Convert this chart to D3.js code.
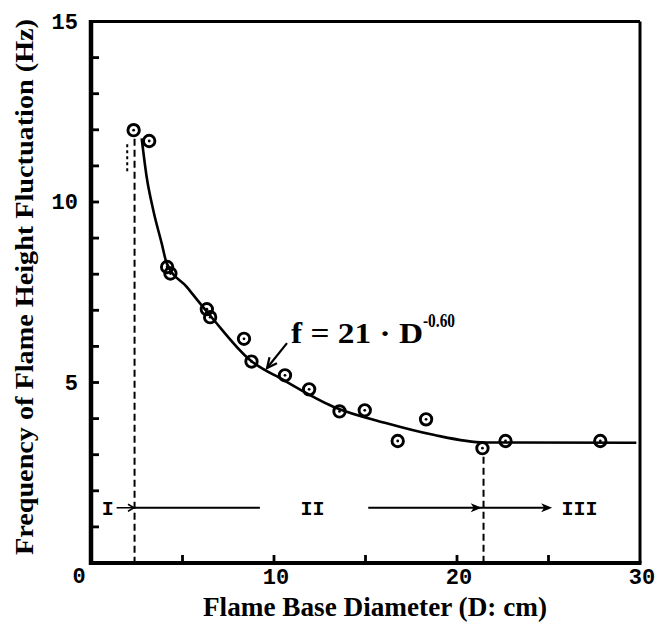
<!DOCTYPE html>
<html>
<head>
<meta charset="utf-8">
<script src="https://d3js.org/d3.v7.min.js"></script>
<style>
  body { margin: 0; background: #fff; }
  svg { display: block; }
</style>
</head>
<body>
<svg id="chart" width="655" height="623"></svg>
<script>
var diameters   = [2.33, 3.18, 4.16, 4.34, 6.33, 6.51, 8.36, 8.77, 10.60, 11.92, 13.58, 14.96, 16.76, 18.31, 21.39, 22.65, 27.83];
var frequencies = [11.99, 11.69, 8.20, 8.02, 7.03, 6.81, 6.21, 5.58, 5.20, 4.81, 4.20, 4.23, 3.38, 3.98, 3.18, 3.38, 3.38];

// fitted curve as drawn in the figure
var fitD = [2.77, 3.04, 3.40, 3.86, 4.14, 5.23, 5.96, 6.60, 8.69, 10.51, 13.24, 16.16, 18.71, 21.50, 29.80];
var fitF = [11.76, 10.70, 9.78, 8.86, 8.30, 7.65, 7.19, 6.80, 5.62, 5.07, 4.33, 3.87, 3.55, 3.34, 3.33];

// ticks
var xTickLabels = [10, 20, 30];
var xMinorTicks = [5, 10, 15, 20, 25];
var yTickLabels = [5, 10, 15];
var yMinorTicks = [1, 2, 3, 4, 5, 6, 7, 8, 9, 10, 11, 12, 13, 14];

// regimes
var boundaries   = [2.38, 21.45];
var regionLabels = ["I", "II", "III"];
var regionX      = [0.91, 12.1, 26.7];
var regionLevel  = 1.53;

var svg = d3.select("#chart");

var x = d3.scaleLinear().domain([0, 30]).range([91, 640]);
var y = d3.scaleLinear().domain([0, 15]).range([563, 21.5]);

var serif = "'Liberation Serif', 'Times New Roman', serif";
var mono  = "'Liberation Mono', 'Courier New', monospace";

//---- frame
svg.append("line").attr("x1", x(0)).attr("x2", x(30)).attr("y1", y(15)).attr("y2", y(15))
	.attr("stroke", "#000").attr("stroke-width", 3);
svg.append("line").attr("x1", x(30)).attr("x2", x(30)).attr("y1", y(15)).attr("y2", y(0))
	.attr("stroke", "#000").attr("stroke-width", 3);
svg.append("line").attr("x1", x(0)).attr("x2", x(30) + 1.5).attr("y1", y(0)).attr("y2", y(0))
	.attr("stroke", "#000").attr("stroke-width", 4);
svg.append("line").attr("x1", x(0)).attr("x2", x(0)).attr("y1", y(15) - 1.5).attr("y2", y(0) + 2)
	.attr("stroke", "#000").attr("stroke-width", 4.5);

//---- inner ticks
svg.selectAll(".xtick").data(xMinorTicks).enter().append("line")
	.attr("class", "xtick")
	.attr("x1", function(d) { return x(d); })
	.attr("x2", function(d) { return x(d); })
	.attr("y1", y(0)).attr("y2", y(0) - 8)
	.attr("stroke", "#000").attr("stroke-width", 2.8);

svg.selectAll(".ytick").data(yMinorTicks).enter().append("line")
	.attr("class", "ytick")
	.attr("x1", x(0)).attr("x2", x(0) + 8)
	.attr("y1", function(d) { return y(d); })
	.attr("y2", function(d) { return y(d); })
	.attr("stroke", "#000").attr("stroke-width", 2.8);

//---- tick labels
svg.selectAll(".xlab").data(xTickLabels).enter().append("text")
	.attr("class", "xlab")
	.attr("x", function(d) { return x(d) + 2; })
	.attr("y", 584)
	.attr("text-anchor", "middle")
	.style("font-family", mono).style("font-weight", "bold").style("font-size", "22px")
	.text(function(d) { return d; });

svg.selectAll(".ylab").data(yTickLabels).enter().append("text")
	.attr("class", "ylab")
	.attr("x", 78)
	.attr("y", function(d) { return y(d) + 7; })
	.attr("text-anchor", "end")
	.style("font-family", mono).style("font-weight", "bold").style("font-size", "22px")
	.text(function(d) { return d; });

// shared zero in the corner
svg.append("text").attr("x", 79).attr("y", 583).attr("text-anchor", "middle")
	.style("font-family", mono).style("font-weight", "bold").style("font-size", "22px")
	.text("0");

//---- axis titles
svg.append("text")
	.attr("transform", "translate(33," + 287 + ") rotate(-90)")
	.attr("text-anchor", "middle")
	.attr("textLength", 536).attr("lengthAdjust", "spacingAndGlyphs")
	.style("font-family", serif).style("font-weight", "bold").style("font-size", "25px")
	.text("Frequency of Flame Height Fluctuation (Hz)");

svg.append("text")
	.attr("x", 375).attr("y", 616)
	.attr("text-anchor", "middle")
	.attr("textLength", 344).attr("lengthAdjust", "spacingAndGlyphs")
	.style("font-family", serif).style("font-weight", "bold").style("font-size", "27px")
	.text("Flame Base Diameter (D: cm)");

//---- regime boundaries (dashed)
svg.selectAll(".bound").data(boundaries).enter().append("line")
	.attr("class", "bound")
	.attr("x1", function(d) { return x(d); })
	.attr("x2", function(d) { return x(d); })
	.attr("y1", function(d, i) { return i == 0 ? y(11.75) : y(2.94); })
	.attr("y2", y(0))
	.attr("stroke", "#000").attr("stroke-width", 2)
	.attr("stroke-dasharray", "7,4");

// short dotted mark left of the first boundary
svg.append("line")
	.attr("x1", x(1.98)).attr("x2", x(1.98))
	.attr("y1", y(11.6)).attr("y2", y(10.8))
	.attr("stroke", "#000").attr("stroke-width", 2)
	.attr("stroke-dasharray", "3,3");

//---- fitted curve
var fitData = fitD.map(function(d, i) { return [d, fitF[i]]; });
var line = d3.line()
	.x(function(d) { return x(d[0]); })
	.y(function(d) { return y(d[1]); })
	.curve(d3.curveMonotoneX);

svg.append("path")
	.datum(fitData)
	.attr("d", line)
	.attr("fill", "none")
	.attr("stroke", "#000")
	.attr("stroke-width", 2.6);

//---- data points
var pts = diameters.map(function(d, i) { return { d: d, f: frequencies[i] }; });
var node = svg.selectAll(".pt").data(pts).enter().append("g")
	.attr("class", "pt")
	.attr("transform", function(p) { return "translate(" + x(p.d) + "," + y(p.f) + ")"; });

node.append("circle")
	.attr("r", 5.7)
	.attr("fill", "none")
	.attr("stroke", "#000")
	.attr("stroke-width", 2.9);

node.append("circle")
	.attr("r", 1.4)
	.attr("fill", "#000");

//---- regime arrows
function arrowHead(xTip, yTip, filled) {
	var px = x(xTip), py = y(yTip);
	if (filled) {
		svg.append("path")
			.attr("d", "M" + px + "," + py + " L" + (px - 11) + "," + (py - 4.5) + " L" + (px - 8) + "," + py + " L" + (px - 11) + "," + (py + 4.5) + " Z")
			.attr("fill", "#000");
	} else {
		svg.append("path")
			.attr("d", "M" + (px - 6) + "," + (py - 3.5) + " L" + px + "," + py + " L" + (px - 6) + "," + (py + 3.5))
			.attr("fill", "none").attr("stroke", "#000").attr("stroke-width", 1.5);
	}
}

// I ->
svg.append("line")
	.attr("x1", x(1.40)).attr("x2", x(2.35))
	.attr("y1", y(regionLevel)).attr("y2", y(regionLevel))
	.attr("stroke", "#000").attr("stroke-width", 1.5);
arrowHead(2.35, regionLevel, false);

// II span
svg.append("line")
	.attr("x1", x(2.35)).attr("x2", x(9.23))
	.attr("y1", y(regionLevel)).attr("y2", y(regionLevel))
	.attr("stroke", "#000").attr("stroke-width", 2.2);

svg.append("line")
	.attr("x1", x(15.15)).attr("x2", x(25.0))
	.attr("y1", y(regionLevel)).attr("y2", y(regionLevel))
	.attr("stroke", "#000").attr("stroke-width", 2);
arrowHead(21.35, regionLevel, true);
arrowHead(25.2, regionLevel, true);

svg.selectAll(".region").data(regionLabels).enter().append("text")
	.attr("class", "region")
	.attr("x", function(d, i) { return x(regionX[i]); })
	.attr("y", y(regionLevel) + 7)
	.attr("text-anchor", "middle")
	.style("font-family", mono).style("font-weight", "bold").style("font-size", "20px")
	.text(function(d) { return d; });

//---- equation with arrow
svg.append("text")
	.attr("x", 291).attr("y", 343)
	.attr("textLength", 132).attr("lengthAdjust", "spacingAndGlyphs")
	.style("font-family", serif).style("font-weight", "bold").style("font-size", "30px")
	.text("f = 21 \u00b7 D");

svg.append("text")
	.attr("x", 423).attr("y", 327)
	.attr("textLength", 32).attr("lengthAdjust", "spacingAndGlyphs")
	.style("font-family", serif).style("font-weight", "bold").style("font-size", "18px")
	.text("-0.60");

var tail = [10.71, 6.09], tip = [9.62, 5.40];
svg.append("line")
	.attr("x1", x(tail[0])).attr("y1", y(tail[1]))
	.attr("x2", x(tip[0])).attr("y2", y(tip[1]))
	.attr("stroke", "#000").attr("stroke-width", 2.2);

(function() {
	var px = x(tip[0]), py = y(tip[1]);
	var ang = Math.atan2(y(tail[1]) - py, x(tail[0]) - px);
	var a1 = ang + 0.45, a2 = ang - 0.45, L = 11;
	svg.append("path")
		.attr("d", "M" + (px + L * Math.cos(a1)) + "," + (py + L * Math.sin(a1)) + " L" + px + "," + py + " L" + (px + L * Math.cos(a2)) + "," + (py + L * Math.sin(a2)))
		.attr("fill", "none").attr("stroke", "#000").attr("stroke-width", 2.2);
})();
</script>
</body>
</html>
